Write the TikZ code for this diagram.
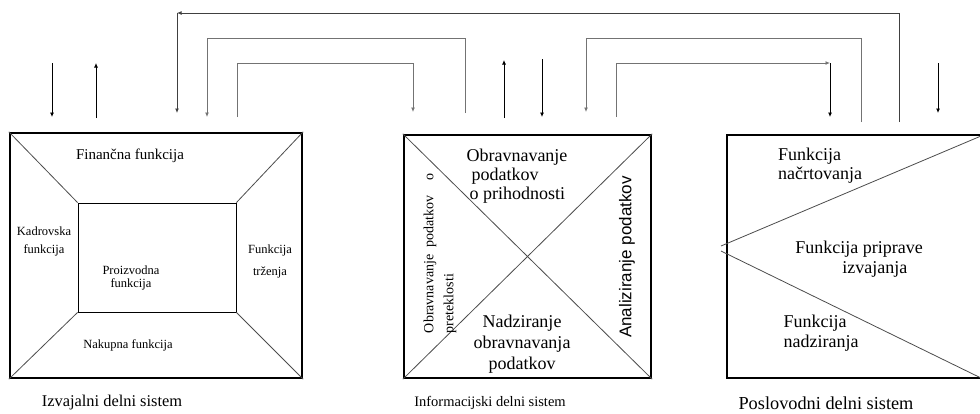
\documentclass[tikz,border=0pt]{standalone}
\usepackage{fontspec}
\setmainfont{Liberation Serif}
\newfontfamily\arialfont{Liberation Sans}
\usetikzlibrary{arrows.meta}
\newcommand{\fs}[1]{\fontsize{#1}{#1}\selectfont}

\begin{document}
\begin{tikzpicture}[x=1pt,y=-1pt]
  \tikzstyle{box_style} = [draw=black,line width=2.4pt,inner sep=0pt]
  \tikzstyle{core_style} = [draw=black,line width=0.8pt,inner sep=0pt]
  \tikzstyle{diag_style} = [draw=black!70,line width=0.8pt]
  \tikzstyle{tip_style} = [-{Latex[length=4.5pt,width=4pt]}]
  \tikzstyle{flow_style} = [draw=black,line width=0.8pt,tip_style]
  \tikzstyle{loop_style} = [draw=black!55,line width=1pt]
  \tikzstyle{txt_style} = [inner sep=0pt]
  \useasboundingbox (0,0) rectangle (980,413);
  \clip (0,0) rectangle (980,413);

  % the three subsystems
  \node[box_style,minimum width=292pt,minimum height=245pt] (izv) at (156,255.5) {};
  \node[core_style,minimum width=158pt,minimum height=109pt] (proizv) at (157,257.5) {};
  \node[box_style,minimum width=247pt,minimum height=243pt] (info) at (527.5,256.5) {};
  \node[box_style,minimum width=258pt,minimum height=243pt] (posl) at (856,256.5) {};

  \draw[diag_style] (izv.north west) -- (proizv.north west);
  \draw[diag_style] (izv.north east) -- (proizv.north east);
  \draw[diag_style] (izv.south west) -- (proizv.south west);
  \draw[diag_style] (izv.south east) -- (proizv.south east);
  \draw[diag_style] (info.north west) -- (info.south east);
  \draw[diag_style] (info.south west) -- (info.north east);
  \coordinate (apexA) at (721,246);
  \coordinate (apexB) at (721,251);
  \coordinate (tipA) at (981,136);
  \coordinate (tipB) at (981,378);
  \draw[diag_style] (apexA) -- (tipA);
  \draw[diag_style] (apexB) -- (tipB);

  % texts
  \node[txt_style,font=\fs{15}] (fin) at (130,156) {Finančna funkcija};
  \node[txt_style,font=\fontsize{12.5}{18}\selectfont,align=center] (kadr) at (44,241) {Kadrovska\\funkcija};
  \node[txt_style,font=\fontsize{12.5}{22}\selectfont,align=center] (trz) at (270,261) {Funkcija\\trženja};
  \node[txt_style,font=\fontsize{12.5}{13.5}\selectfont,align=center] (pro) at (131,278) {Proizvodna\\funkcija};
  \node[txt_style,font=\fs{12.5}] (nak) at (128,345) {Nakupna funkcija};
  \node[txt_style,font=\fs{16.4}] (izvname) at (112,403) {Izvajalni delni sistem};

  \node[txt_style,font=\fontsize{18}{19}\selectfont,align=left] (prih) at (517,176)
    {Obravnavanje\\\hspace*{5pt}podatkov\\\hspace*{3pt}o prihodnosti};
  \node[txt_style,font=\fontsize{14}{20}\selectfont,align=left,rotate=90] (pret) at (440,253)
    {\hbox to 160pt{Obravnavanje\hspace{7pt}podatkov\hfill o}\\preteklosti};
  \node[txt_style,font=\arialfont\fs{17},rotate=90] (anal) at (627,257) {Analiziranje podatkov};
  \node[txt_style,font=\fontsize{18}{21}\selectfont,align=center] (nadz) at (522,344)
    {Nadziranje\\obravnavanja\\podatkov};
  \node[txt_style,font=\fs{14.5}] (infoname) at (490,403) {Informacijski delni sistem};

  \node[txt_style,font=\fontsize{18}{19}\selectfont,align=left] (nacrt) at (820,166) {Funkcija\\načrtovanja};
  \node[txt_style,font=\fontsize{18}{20}\selectfont,align=left] (pripr) at (859,259)
    {Funkcija priprave\\\hspace*{47pt}izvajanja};
  \node[txt_style,font=\fontsize{18}{20}\selectfont,align=left] (nadzf) at (821,333) {Funkcija\\nadziranja};
  \node[txt_style,font=\fs{18.3}] (poslname) at (826,403) {Poslovodni delni sistem};

  % inputs and outputs
  \coordinate (inA) at (52,63);   \coordinate (inA') at (52,117);
  \coordinate (outA) at (96,118); \coordinate (outA') at (96,63);
  \coordinate (outB) at (504,118); \coordinate (outB') at (504,60);
  \coordinate (inB) at (542,59);  \coordinate (inB') at (542,117);
  \coordinate (inC) at (938,63);  \coordinate (inC') at (938,113);
  \draw[flow_style] (inA) -- (inA');
  \draw[flow_style] (outA) -- (outA');
  \draw[flow_style] (outB) -- (outB');
  \draw[flow_style] (inB) -- (inB');
  \draw[flow_style] (inC) -- (inC');

  % links between the subsystems
  \coordinate (pI) at (899,122); \coordinate (pIc) at (177,13); \coordinate (pIe) at (177,113);
  \draw[loop_style,draw=black!75,tip_style] (pI) |- (pIc);
  \draw[loop_style,draw=black!75,tip_style] (pIc) -- (pIe);
  \coordinate (iI) at (465,113); \coordinate (iIc) at (207,38); \coordinate (iIe) at (207,117);
  \draw[loop_style,tip_style] (iI) |- (iIc) -- (iIe);
  \coordinate (Ii) at (237,117); \coordinate (Iic) at (413,63); \coordinate (Iie) at (413,112);
  \draw[loop_style,tip_style] (Ii) |- (Iic) -- (Iie);
  \coordinate (pi) at (861,122); \coordinate (pic) at (586,38); \coordinate (pie) at (586,112);
  \draw[loop_style,tip_style] (pi) |- (pic) -- (pie);
  \coordinate (ip) at (616,117); \coordinate (ipc) at (830,63); \coordinate (ipe) at (830,117);
  \draw[loop_style,tip_style] (ip) |- (ipc);
  \draw[flow_style] (ipc) -- (ipe);
\end{tikzpicture}
\end{document}
